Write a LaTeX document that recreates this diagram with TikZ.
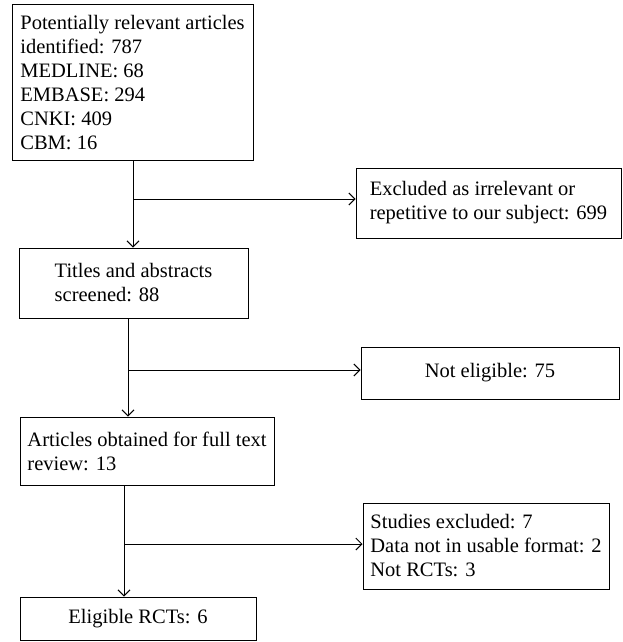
\documentclass[tikz,border=0pt]{standalone}
\usepackage{fontspec}
\setmainfont{Liberation Serif}
\usetikzlibrary{arrows.meta}
\begin{document}
\begin{tikzpicture}[x=1pt, y=-1pt, line width=1pt,
            >={Straight Barb[length=6pt,width=12pt]},
            box/.style={draw, align=left, inner sep=4pt, font=\fontsize{20.5}{24}\selectfont}]
            \useasboundingbox (0,0) rectangle (622,642);
            \node(Id) [box, minimum width=241, minimum height=155] at (132.5,82.5) {Potentially relevant articles\\identified: 787\\MEDLINE: 68\\EMBASE: 294\\CNKI: 409\\CBM: 16};
            \node(Ex1) [box, minimum width=265, minimum height=70] at (488.5,203) {Excluded as irrelevant or\\repetitive to our subject: 699};
            \node(Ti) [box, minimum width=229, minimum height=70] at (133.5,283) {Titles and abstracts\\screened: 88};
            \node(Ex2) [box, minimum width=258, minimum height=52] at (490,373) {Not eligible: 75};
            \node(Ft) [box, minimum width=254, minimum height=68] at (147,451) {Articles obtained for full text\\review: 13};
            \node(Ex3) [box, minimum width=246, minimum height=86] at (486,546) {Studies excluded: 7\\Data not in usable format: 2\\Not RCTs: 3};
            \node(El) [box, minimum width=236, minimum height=43] at (138,618.5) {Eligible RCTs: 6};
            \coordinate(J1) at (133,199);
            \coordinate(J2) at (128,370);
            \coordinate(J3) at (124,544);
            \draw[->](Id.south -| J1) to (Ti.north -| J1);
            \draw[->](J1) to (J1 -| Ex1.west);
            \draw[->](Ti.south -| J2) to (Ft.north -| J2);
            \draw[->](J2) to (J2 -| Ex2.west);
            \draw[->](Ft.south -| J3) to (El.north -| J3);
            \draw[->](J3) to (J3 -| Ex3.west);
            \end{tikzpicture}
\end{document}
